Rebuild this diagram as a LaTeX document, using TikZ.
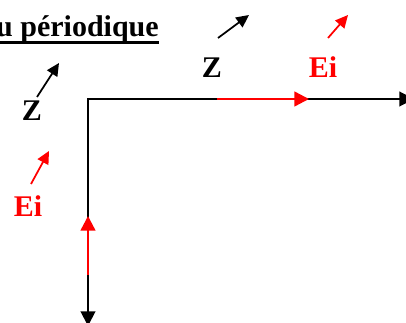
\documentclass[tikz,border=0pt]{standalone}
\usepackage{fontspec}
\setmainfont{Liberation Serif}
\usetikzlibrary{arrows.meta}

\begin{document}
\begin{tikzpicture}[
    x=0.75pt, y=-0.75pt,
    txt/.style={inner sep=0pt, anchor=base, font=\fontsize{22.5}{27}\selectfont\bfseries},
    axis/.style={line width=1.5pt, {Triangle[length=11pt, width=11pt]}-{Triangle[length=11pt, width=11pt]}},
    field/.style={line width=1.8pt, red, -{Triangle[length=11pt, width=11pt]}},
    dirarrow/.style={line width=1.3pt, -{Triangle[length=9.5pt, width=9pt]}}
]
\useasboundingbox (0,0) rectangle (406,323);

% titre
\node[txt, anchor=base east] (title) at (159,37) {u périodique};
\draw[line width=2.6pt] ([yshift=-4pt]title.base west) -- ([yshift=-4pt]title.base east);

% axes
\coordinate (O) at (88,99);
\coordinate (xend) at (414,99);
\coordinate (yend) at (88,326);
\draw[axis] (xend) -- (O) -- (yend);

% champ incident sur les axes
\coordinate (ex0) at (217,99);
\coordinate (ex1) at (309,99);
\coordinate (ey0) at (88,275);
\coordinate (ey1) at (88,216);
\draw[field] (ex0) -- (ex1);
\draw[field] (ey0) -- (ey1);

% directions
\coordinate (zl0) at (37,97);  \coordinate (zl1) at (59,63);
\coordinate (zt0) at (218,38); \coordinate (zt1) at (249,15);
\coordinate (et0) at (328,38); \coordinate (et1) at (348,15);
\coordinate (el0) at (31,184); \coordinate (el1) at (49,151);
\draw[dirarrow] (zl0) -- (zl1);
\draw[dirarrow] (zt0) -- (zt1);
\draw[dirarrow, red] (et0) -- (et1);
\draw[dirarrow, red] (el0) -- (el1);

\node[txt] (zleft) at (32,121) {Z};
\node[txt] (ztop) at (212,78) {Z};
\node[txt, red] (eitop) at (323,78) {Ei};
\node[txt, red] (eileft) at (28,217) {Ei};

\end{tikzpicture}
\end{document}
